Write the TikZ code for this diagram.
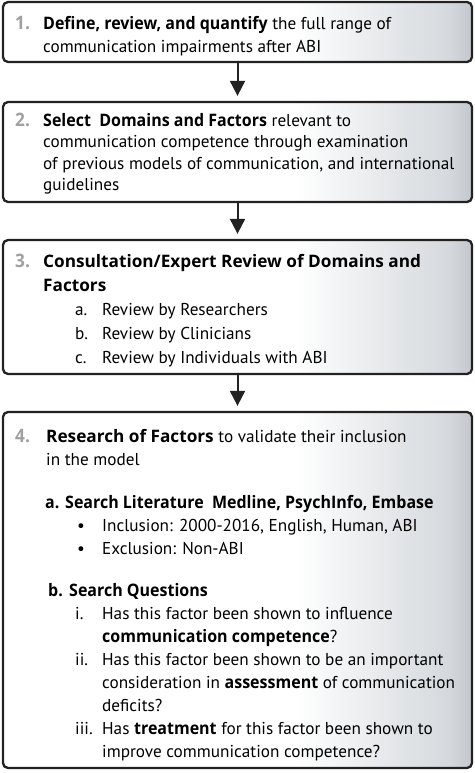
\documentclass[tikz,border=0pt]{standalone}
\usepackage{fontspec}
\setmainfont{PT Sans}[BoldFont={Open Sans Bold},BoldFeatures={FakeStretch=0.93}]
\newfontfamily\widebold{Open Sans Bold}
\usepackage{tikz}
\usetikzlibrary{arrows.meta,positioning,calc}
\definecolor{boxgray}{HTML}{D5D9DD}
\definecolor{rimgray}{HTML}{C3C7CB}
\definecolor{numgray}{HTML}{A0A0A0}
\definecolor{edgegray}{HTML}{222222}
\pgfdeclarehorizontalshading{boxfade}{100bp}{color(0bp)=(white); color(25bp)=(white); color(56bp)=(white); color(72.5bp)=(boxgray); color(75bp)=(rimgray); color(100bp)=(rimgray)}
\newcommand{\boxnum}[2]{\rule{0pt}{14pt}\llap{\makebox[#2][l]{\textcolor{numgray}{\fontsize{18.5}{20}\selectfont\textbf{#1}}}}}

\begin{document}
\begin{tikzpicture}[x=1pt,y=-1pt,
  stepbox/.style={draw=edgegray,line width=2.3pt,rounded corners=5pt,shading=boxfade,minimum width=469pt,inner sep=0pt},
  steptext/.style={anchor=north west,align=left,inner sep=0pt,font=\fontsize{17.2}{#1}\selectfont},
  steptext/.default=22.5pt,
  flow/.style={line width=2pt,draw=edgegray,-{Triangle[length=15pt,width=15pt]},shorten >=5pt}]
\useasboundingbox (0,0) rectangle (474,773);
\node[stepbox,minimum height=60pt] (define) at (237.5,32) {};
\node[stepbox,minimum height=100pt] (select) at (237.5,152) {};
\node[stepbox,minimum height=134pt] (consult) at (237.5,307) {};
\node[stepbox,minimum height=356pt] (research) at (237.5,590) {};
\draw[flow] (define.south) -- (select.north);
\draw[flow] (select.south) -- (consult.north);
\draw[flow] (consult.south) -- (research.north);
\node[steptext=23pt] (definetext) at (43,15) {\boxnum{1.}{28pt}\textbf{Define, review, and quantify} the full range of\\
communication impairments after ABI};
\node[steptext=21.5pt] (selecttext) at (43,112) {\boxnum{2.}{28pt}\textbf{Select\ \ Domains and Factors} relevant to\\
communication competence through examination\\
of previous models of communication, and international\\
guidelines};
\node[steptext=24pt] (consulttext) at (43,253) {\boxnum{3.}{28pt}{\widebold Consultation/Expert Review of Domains and}\\
{\widebold Factors}\\
\hspace*{32pt}\makebox[27pt][l]{a.}Review by Researchers\\
\hspace*{32pt}\makebox[27pt][l]{b.}Review by Clinicians\\
\hspace*{32pt}\makebox[27pt][l]{c.}Review by Individuals with ABI};
\node[steptext=23pt] (researchtext) at (46,428) {\boxnum{4.}{31pt}{\widebold Research of Factors} to validate their inclusion\\
in the model\\[20pt]
\hspace*{-1pt}\textbf{\makebox[20pt][l]{a.}Search Literature\ \ Medline, PsychInfo, Embase}\\
\hspace*{31pt}\makebox[25pt][l]{\textbullet}Inclusion: 2000-2016, English, Human, ABI\\
\hspace*{31pt}\makebox[25pt][l]{\textbullet}Exclusion: Non-ABI\\[19pt]
\hspace*{2pt}\textbf{\makebox[21pt][l]{b.}Search Questions}\\
\hspace*{29pt}\makebox[27pt][l]{i.}Has this factor been shown to influence\\
\hspace*{56pt}\textbf{communication competence}?\\
\hspace*{29pt}\makebox[27pt][l]{ii.}Has this factor been shown to be an important\\
\hspace*{56pt}consideration in \textbf{assessment} of communication\\
\hspace*{56pt}deficits?\\
\hspace*{29pt}\makebox[27pt][l]{iii.}Has \textbf{treatment} for this factor been shown to\\
\hspace*{56pt}improve communication competence?};
\end{tikzpicture}
\end{document}
